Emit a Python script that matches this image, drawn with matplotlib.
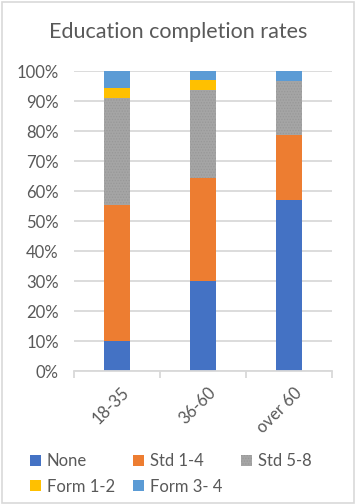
import numpy as np
import matplotlib
matplotlib.use("Agg")
import matplotlib.pyplot as plt
from matplotlib.patches import Patch, Rectangle

plt.rcParams['font.family'] = ['Lato', 'DejaVu Sans']
plt.rcParams['hatch.linewidth'] = 0.6

# data (percent of each age group)
categories = ['18-35', '36-60', 'over 60']
none = [10.0, 30.0, 57.0]
std_1_4 = [45.3, 34.4, 21.6]
std_5_8 = [35.7, 29.3, 18.1]
form_1_2 = [3.3, 3.3, 0.0]
form_3_4 = [5.7, 3.0, 3.3]

series = [('None', none, '#4472C4'),
          ('Std 1-4', std_1_4, '#ED7D31'),
          ('Std 5-8', std_5_8, '#A5A5A5'),
          ('Form 1-2', form_1_2, '#FFC000'),
          ('Form 3- 4', form_3_4, '#5B9BD5')]

txt = '#595959'
grid = '#D9D9D9'

fig = plt.figure(figsize=(3.56, 5.04), dpi=100)
ax = fig.add_axes([74/356, 1-371/504, (332-74)/356, 300/504])

x = np.arange(len(categories))
bottom = np.zeros(len(categories))
handles = {}
for name, vals, col in series:
    vals = np.array(vals)
    if name == 'Std 5-8':
        bars = ax.bar(x, vals, 0.31, bottom=bottom, color=col, hatch='......',
                      edgecolor='#989898', linewidth=0, zorder=3)
        handles[name] = Patch(facecolor=col, hatch='......', edgecolor='#989898', linewidth=0)
    else:
        bars = ax.bar(x, vals, 0.31, bottom=bottom, color=col, linewidth=0, zorder=3)
        handles[name] = Patch(facecolor=col, linewidth=0)
    bottom += vals

ax.set_xlim(-0.5, len(categories) - 0.5)
ax.set_ylim(0, 100)
ax.set_yticks(np.arange(0, 101, 10))
ax.set_yticklabels(['%d%%' % v for v in range(0, 101, 10)])
ax.yaxis.grid(True, color=grid, linewidth=1.3, zorder=0)
ax.tick_params(axis='y', length=0, pad=11, labelsize=12, labelcolor=txt)

for s in ['left', 'right', 'top']:
    ax.spines[s].set_visible(False)
ax.spines['bottom'].set_color(grid)
ax.spines['bottom'].set_linewidth(1.3)
ax.spines['bottom'].set_zorder(4)

# category labels rotated, tick marks at the category borders
ax.set_xticks(np.arange(-0.5, len(categories), 1.0))
ax.set_xticklabels([])
ax.tick_params(axis='x', length=5, width=1.3, color=grid, direction='out')
for i, c in enumerate(categories):
    ax.text(i + 0.05, -4.5, c, rotation=45, ha='right', va='top',
            rotation_mode='anchor', fontsize=12, color=txt,
            transform=ax.transData)

fig.text(178/356, 1-32/504, 'Education completion rates', ha='center',
         va='center', fontsize=15.5, color=txt)

order = ['None', 'Form 1-2', 'Std 1-4', 'Form 3- 4', 'Std 5-8']
fig.legend([handles[n] for n in order], order, ncol=3, frameon=False,
           loc='center left', bbox_to_anchor=(30/356, 1-474/504),
           fontsize=12, labelcolor=txt, handlelength=0.66, handleheight=0.66,
           handletextpad=0.35, columnspacing=1.1, labelspacing=0.55,
           borderpad=0, borderaxespad=0)

fig.patches.append(Rectangle((2/356, 1/504), 352/356, 501/504, transform=fig.transFigure,
                             fill=False, edgecolor=grid, linewidth=1.2))

fig.savefig('out.png', dpi=100)
